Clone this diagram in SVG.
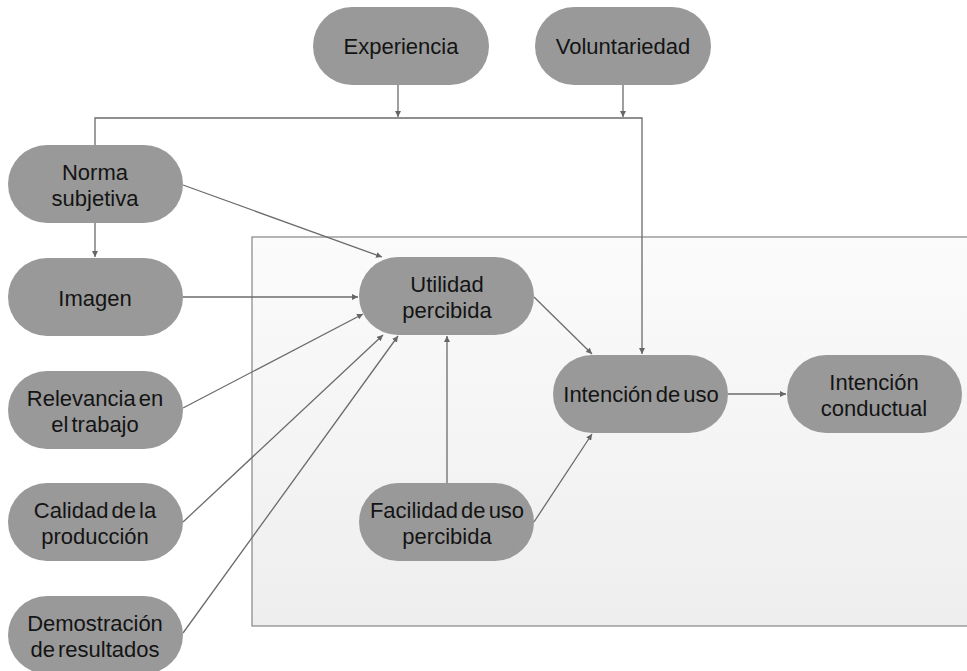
<svg xmlns="http://www.w3.org/2000/svg" width="967" height="671" viewBox="0 0 967 671">
<defs>
<linearGradient id="bg" x1="0" y1="0" x2="0" y2="1">
<stop offset="0" stop-color="#fbfbfb"/>
<stop offset="1" stop-color="#eeeeee"/>
</linearGradient>
<marker id="ah" markerUnits="userSpaceOnUse" markerWidth="7" markerHeight="6" refX="6" refY="3" orient="auto">
<path d="M0,0 L6,3 L0,6 z" fill="#666"/>
</marker>
</defs>
<style>
.n{fill:#999999;}
.t{font-family:"Liberation Sans",Arial,sans-serif;font-size:22px;fill:#141414;text-anchor:middle;word-spacing:-3px;}
.c{fill:none;stroke:#6b6b6b;stroke-width:1.3;}
.a{marker-end:url(#ah);}
</style>
<rect x="252" y="237" width="720" height="389" fill="url(#bg)" stroke="#858585" stroke-width="1.2"/>
<g id="connectors">
<path class="c a" d="M398,85 V117"/>
<path class="c a" d="M623,85 V117"/>
<path class="c a" d="M95,145 V118 H642 V354"/>
<path class="c a" d="M95,222 V257"/>
<path class="c a" d="M183,185 L382,257"/>
<path class="c a" d="M183,297 L358,297"/>
<path class="c a" d="M183,408 L363,314"/>
<path class="c a" d="M183,522 L383,335"/>
<path class="c a" d="M183,633 L398,336"/>
<path class="c a" d="M447,483 V336"/>
<path class="c a" d="M534,297 L592,354"/>
<path class="c a" d="M534,522 L592,434"/>
<path class="c a" d="M728,394 H786"/>
</g>
<g id="experiencia"><rect class="n" x="313" y="7" width="176" height="78" rx="39"/><text class="t" x="401" y="54">Experiencia</text></g>
<g id="voluntariedad"><rect class="n" x="535" y="7" width="176" height="78" rx="39"/><text class="t" x="623" y="54">Voluntariedad</text></g>
<g id="norma"><rect class="n" x="8" y="145" width="175" height="78" rx="39"/><text class="t" x="95"><tspan x="95" y="180">Norma</tspan><tspan x="95" y="205.5">subjetiva</tspan></text></g>
<g id="imagen"><rect class="n" x="8" y="258" width="175" height="78" rx="39"/><text class="t" x="95" y="306">Imagen</text></g>
<g id="relevancia"><rect class="n" x="8" y="371" width="175" height="78" rx="39"/><text class="t" x="95"><tspan x="95" y="406">Relevancia en</tspan><tspan x="95" y="431.5">el trabajo</tspan></text></g>
<g id="calidad"><rect class="n" x="8" y="483" width="175" height="78" rx="39"/><text class="t" x="95"><tspan x="95" y="518">Calidad de la</tspan><tspan x="95" y="543.5">producción</tspan></text></g>
<g id="demostracion"><rect class="n" x="8" y="596" width="175" height="78" rx="39"/><text class="t" x="95"><tspan x="95" y="631">Demostración</tspan><tspan x="95" y="656.5">de resultados</tspan></text></g>
<g id="utilidad"><rect class="n" x="359" y="257" width="175" height="78" rx="39"/><text class="t" x="447"><tspan x="447" y="292">Utilidad</tspan><tspan x="447" y="317.5">percibida</tspan></text></g>
<g id="facilidad"><rect class="n" x="359" y="483" width="175" height="78" rx="39"/><text class="t" x="447"><tspan x="447" y="518">Facilidad de uso</tspan><tspan x="447" y="543.5">percibida</tspan></text></g>
<g id="intencion-uso"><rect class="n" x="553" y="355" width="175" height="78" rx="39"/><text class="t" x="641" y="402">Intención de uso</text></g>
<g id="intencion-conductual"><rect class="n" x="787" y="355" width="175" height="78" rx="39"/><text class="t" x="874"><tspan x="874" y="390">Intención</tspan><tspan x="874" y="415.5">conductual</tspan></text></g>
</svg>
